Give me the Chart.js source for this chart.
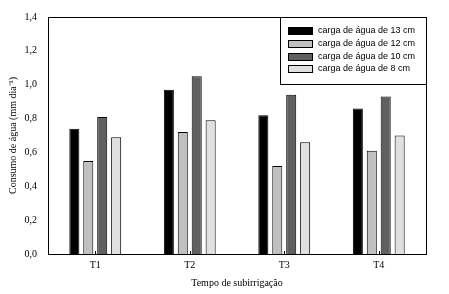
<!DOCTYPE html>
<html>
<head>
<meta charset="utf-8">
<script src="https://cdn.jsdelivr.net/npm/chart.js@4"></script>
<style>
  html, body { margin: 0; padding: 0; background: #fff; }
  #wrap { width: 449px; height: 294px; }
</style>
</head>
<body>
<div id="wrap"><canvas id="consumoChart"></canvas></div>
<script>
// dados
const tratamentos = ["T1", "T2", "T3", "T4"];
const carga13 = [0.74, 0.97, 0.82, 0.86];
const carga12 = [0.55, 0.72, 0.52, 0.61];
const carga10 = [0.81, 1.05, 0.94, 0.93];
const carga8 = [0.69, 0.79, 0.66, 0.70];
const yTicks = [0, 0.2, 0.4, 0.6, 0.8, 1.0, 1.2, 1.4];

const serif = "'Liberation Serif', 'Times New Roman', serif";

// caixa do gráfico + marcas no eixo x
const boxPlugin = {
  id: "box",
  afterDraw(chart) {
    const { ctx, chartArea: a, scales } = chart;
    ctx.save();
    ctx.strokeStyle = "#000";
    ctx.lineWidth = 1;
    ctx.strokeRect(Math.round(a.left) + 0.5, Math.round(a.top) + 0.5,
      Math.round(a.right - a.left), Math.round(a.bottom - a.top));
    // pequenas marcas no centro de cada categoria
    tratamentos.forEach((t, i) => {
      const x = Math.round(scales.x.getPixelForValue(i)) + 0.5;
      ctx.beginPath();
      ctx.moveTo(x, a.bottom);
      ctx.lineTo(x, a.bottom - 3);
      ctx.stroke();
    });
    ctx.restore();
  },
};

// legenda dentro da área do gráfico, canto superior direito
const legendBox = {
  id: "legendBox",
  afterDraw(chart) {
    const { ctx, chartArea: a } = chart;
    const x0 = 280.5, y0 = Math.round(a.top) + 0.5;
    const w = Math.round(a.right) - 280, h = 67;
    ctx.save();
    ctx.fillStyle = "#fff";
    ctx.fillRect(x0, y0, w, h);
    ctx.strokeStyle = "#000";
    ctx.lineWidth = 1;
    ctx.strokeRect(x0, y0, w, h);
    ctx.font = "9px 'Liberation Sans', Arial, sans-serif";
    ctx.textBaseline = "middle";
    const rows = [31, 44, 57, 69];
    chart.data.datasets.forEach((ds, i) => {
      const y = rows[i];
      ctx.fillStyle = ds.backgroundColor;
      ctx.fillRect(288.5, y - 3.5, 24, 7);
      ctx.strokeRect(288.5, y - 3.5, 24, 7);
      ctx.fillStyle = "#000";
      ctx.fillText(ds.label, 318, y);
    });
    ctx.restore();
  },
};

const barCommon = {
  borderColor: "#000",
  borderWidth: 1,
  categoryPercentage: 0.59,
  barPercentage: 0.72,
};

const consumoChart = new Chart(document.getElementById("consumoChart"), {
  type: "bar",
  data: {
    labels: tratamentos,
    datasets: [
      { label: "carga de água de 13 cm", data: carga13, backgroundColor: "#000000", ...barCommon },
      { label: "carga de água de 12 cm", data: carga12, backgroundColor: "#c0c0c0", ...barCommon },
      { label: "carga de água de 10 cm", data: carga10, backgroundColor: "#606060", ...barCommon },
      { label: "carga de água de 8 cm", data: carga8, backgroundColor: "#e0e0e0", ...barCommon },
    ],
  },
  options: {
    responsive: true,
    maintainAspectRatio: false,
    animation: false,
    layout: { padding: { top: 14, right: 23, left: 0, bottom: 0 } },
    plugins: {
      legend: { display: false },
      tooltip: { enabled: false },
    },
    scales: {
      x: {
        grid: { display: false, drawTicks: false },
        border: { display: false },
        ticks: { color: "#000", font: { family: serif, size: 10 }, padding: 5 },
        title: {
          display: true,
          text: "Tempo de subirrigação",
          color: "#000",
          font: { family: serif, size: 10 },
          padding: { top: 4, bottom: 5 },
        },
        afterFit(scale) { scale.height = 40; },
      },
      y: {
        min: 0,
        max: 1.4,
        grid: { display: false, drawTicks: false },
        border: { display: false },
        afterBuildTicks(scale) { scale.ticks = yTicks.map(v => ({ value: v })); },
        ticks: {
          color: "#000",
          font: { family: serif, size: 10 },
          padding: 11,
          callback: v => v.toFixed(1).replace(".", ","),
        },
        title: {
          display: true,
          text: "Consumo de água (mm dia⁻¹)",
          color: "#000",
          font: { family: serif, size: 10 },
          padding: { top: 7, bottom: 0 },
        },
        afterFit(scale) { scale.width = 48; },
      },
    },
  },
  plugins: [boxPlugin, legendBox],
});
</script>
</body>
</html>
